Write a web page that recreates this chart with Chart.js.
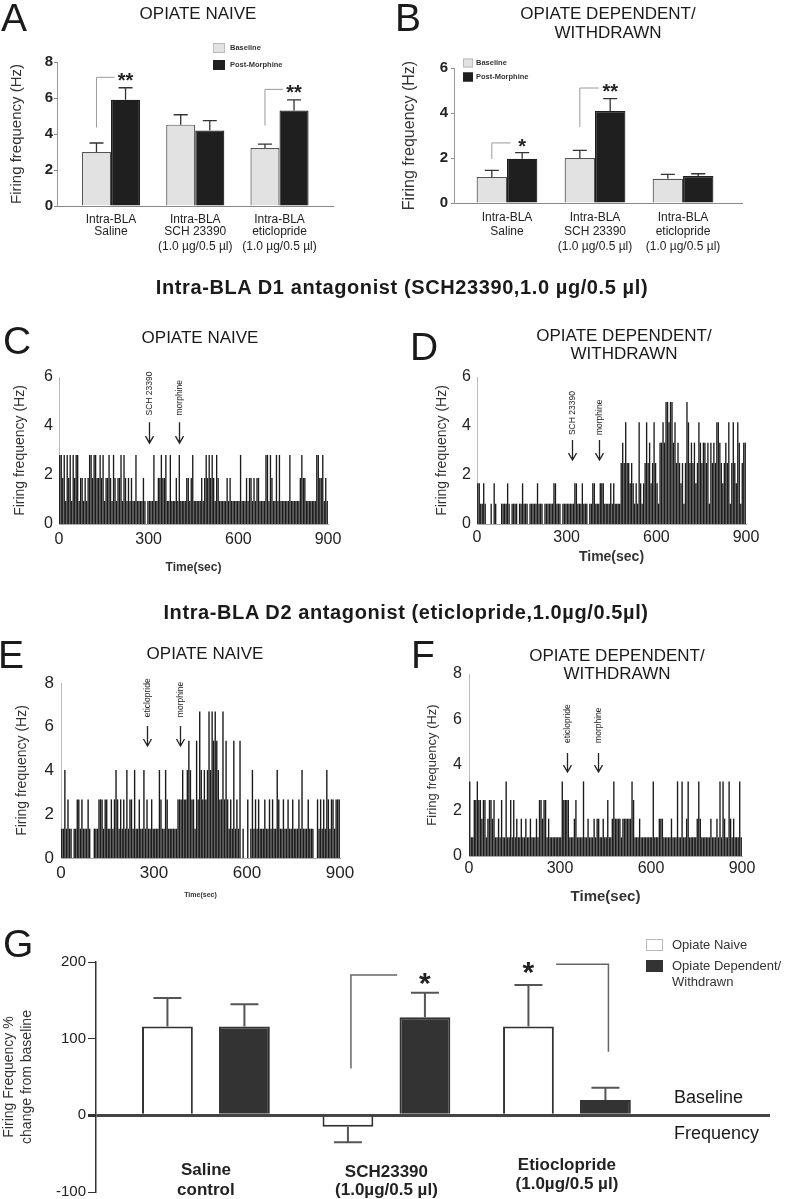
<!DOCTYPE html>
<html>
<head>
<meta charset="utf-8">
<script src="https://cdn.jsdelivr.net/npm/chart.js@4.4.1/dist/chart.umd.min.js"></script>
<style>
  body { margin: 0; background: #fff; }
  #page { position: relative; width: 789px; height: 1199px; overflow: hidden; font-family: 'Liberation Sans', Arial, sans-serif; color: #1a1a1a; }
  canvas { position: absolute; left: 0; top: 0; }
  .t { position: absolute; white-space: nowrap; line-height: 1; }
</style>
</head>
<body>
<div id="page"></div>
<script>
// ---- panels A / B: firing rate before and after morphine ----
const groupLabelsAB = [
  ['Intra-BLA', 'Saline'],
  ['Intra-BLA', 'SCH 23390', '(1.0 µg/0.5 µl)'],
  ['Intra-BLA', 'eticlopride', '(1.0 µg/0.5 µl)']
];
const naiveBaseline = [3.0, 4.52, 3.22];
const naiveBaselineErr = [0.5, 0.55, 0.22];
const naivePostMorphine = [5.9, 4.19, 5.3];
const naivePostMorphineErr = [0.67, 0.55, 0.6];
const depBaseline = [1.16, 2.0, 1.08];
const depBaselineErr = [0.29, 0.34, 0.19];
const depPostMorphine = [1.97, 4.09, 1.2];
const depPostMorphineErr = [0.27, 0.55, 0.1];
const sigNaive = [
  { group: 0, from: 0, to: 1, stars: '**', top: 7.15, low: 4.36 },
  { group: 2, from: 0, to: 1, stars: '**', top: 6.48, low: 4.47 }
];
const sigDependent = [
  { group: 0, from: 0, to: 1, stars: '*', top: 2.67, low: 1.96 },
  { group: 1, from: 0, to: 1, stars: '**', top: 5.11, low: 3.38 }
];

// ---- panels C-F: rate histograms, spikes per 5 s bin ----
const binSec = 5;
const hzPerSpikeC = 0.94;
const hzPerSpikeD = 0.83;
const hzPerSpikeE = 1.34;
const hzPerSpikeF = 0.82;
const countsC = [
  3,3,2,3,1,3,2,3,1,3, 2,3,3,1,2,2,1,2,1,2, 3,3,2,3,3,2,2,3,2,3, 1,2,2,3,2,1,
  3,2,1,2,2,3,1,3,2,1, 2,1,2,1,1,3,1,1,1,1, 2,1,0,1,1,1,1,3,1,1, 2,2,3,2,2,3,
  1,1,3,1,1,1,2,1,3,1, 1,1,1,2,2,1,2,3,1,1, 1,1,1,2,1,2,3,2,3,2, 3,2,1,3,2,1,
  1,1,1,1,2,1,2,1,1,1, 1,1,1,3,1,1,1,2,1,2, 2,1,2,1,2,2,1,1,1,1, 3,3,1,3,2,1,
  1,3,1,3,1,1,1,1,1,1, 3,1,1,1,1,1,1,2,3,2, 2,1,1,1,1,1,1,1,3,3, 2,2,3,1,2,1
];
const countsD = [
  2,2,1,1,2,1,0,0,0,1, 0,2,1,0,0,0,1,1,1,1, 2,1,0,1,1,1,1,0,1,1, 2,1,1,1,0,1,
  1,1,1,1,2,1,1,1,0,1, 1,1,1,1,1,2,2,1,1,1, 0,1,1,1,1,1,1,1,1,2, 2,1,1,1,2,1,
  1,1,0,1,1,2,2,1,1,1, 2,2,2,1,1,1,1,2,1,2, 1,1,1,1,3,4,3,5,3,3, 2,3,2,1,2,1,
  5,2,1,2,3,5,3,4,2,3, 5,3,2,1,4,4,5,4,6,6, 5,6,6,4,5,3,4,3,2,3, 1,3,6,5,3,4,
  3,4,2,3,5,4,3,4,4,3, 4,1,4,3,4,3,5,5,4,3, 2,3,4,3,5,1,3,5,3,2, 5,4,1,3,4,4
];
const countsE = [
  1,1,3,1,2,1,1,0,1,1, 2,2,1,2,1,1,1,2,1,0, 0,1,1,1,2,2,2,1,2,2, 1,1,2,1,2,3,
  2,1,2,1,2,1,3,1,2,2, 1,3,1,1,2,1,1,3,1,2, 1,1,2,1,1,1,1,3,2,1, 1,3,2,1,1,1,
  1,1,1,2,2,2,3,2,2,3, 4,3,2,2,1,4,2,5,3,2, 3,2,3,5,3,5,4,5,4,3, 2,2,5,2,4,2,
  1,2,1,4,1,2,1,4,0,1, 0,0,2,0,1,3,1,2,1,2, 1,1,1,2,1,1,2,1,2,1, 1,3,2,1,1,2,
  1,1,2,1,1,2,1,1,1,2, 1,3,1,1,1,2,1,1,1,0, 0,2,1,2,1,2,1,3,2,1, 2,2,1,2,2,2
];
const countsF = [
  4,1,1,3,3,4,3,3,2,3, 3,1,2,3,3,2,3,1,1,2, 1,3,1,1,4,1,1,3,1,3, 1,2,1,1,2,1,
  1,2,1,1,2,1,1,1,2,1, 3,3,2,3,3,1,2,1,1,1, 1,1,1,1,1,4,3,3,3,3, 1,1,1,2,3,1,
  1,1,1,4,1,1,2,1,1,1, 2,1,2,2,1,1,2,1,1,3, 1,1,2,4,2,2,2,2,1,2, 2,2,2,2,2,4,
  3,1,1,1,2,1,1,1,1,1, 1,1,1,4,1,1,1,2,2,2, 1,1,1,1,1,2,1,1,1,4, 1,1,4,1,1,2,
  4,1,1,1,1,1,2,4,2,1, 1,1,1,1,1,2,1,1,1,2, 1,4,1,4,2,1,1,4,2,1, 2,1,1,1,4,1
];
const eventLabelsD1 = ['SCH 23390', 'morphine'];
const eventLabelsD2 = ['eticlopride', 'morphine'];
const eventTimesC = [301, 402];
const eventTimesD = [317, 408];
const eventTimesE = [278, 385];
const eventTimesF = [322, 424];

// ---- panel G: % change from baseline ----
const groupLabelsG = [['Saline', 'control'], ['SCH23390', '(1.0µg/0.5 µl)'], ['Etioclopride', '(1.0µg/0.5 µl)']];
const pctNaive = [116, -15, 116];
const pctNaiveErr = [37, 20, 54];
const pctDependent = [116, 128, 20];
const pctDependentErr = [29, 32, 16];
const sigG = [
  { group: 1, from: 0, to: 1, stars: '*', top: 183, low: 61 },
  { group: 2, from: 1, to: 0, stars: '*', top: 197, low: 83 }
];

const W = 789, H = 1199;
const FONT = "'Liberation Sans', Arial, sans-serif";
const page = document.getElementById('page');
Chart.defaults.font.family = FONT;
Chart.defaults.color = '#222';

function addCanvas() {
  const c = document.createElement('canvas');
  c.width = W; c.height = H;
  page.appendChild(c);
  return c;
}
// place the plot area at page coordinates
function frame(b) {
  return { autoPadding: false, padding: { left: b.l - b.yw, top: b.t, right: W - b.r, bottom: H - b.b - b.xh } };
}
const fixY = w => s => { s.width = w; s.paddingTop = 0; s.paddingBottom = 0; };
const fixX = h => s => { s.height = h; s.paddingLeft = 0; s.paddingRight = 0; };
const groupTicks = s => { s.ticks = [1, 2, 3].map(v => ({ value: v })); };

const errorBars = {
  id: 'errorBars',
  afterDatasetsDraw(chart, args, o) {
    const ys = chart.scales.y, ctx = chart.ctx;
    chart.data.datasets.forEach((ds, di) => {
      if (!ds.errors) return;
      chart.getDatasetMeta(di).data.forEach((bar, i) => {
        const v = ds.data[i].y, e = ds.errors[i];
        const end = ys.getPixelForValue(v < 0 ? v - e : v + e);
        ctx.save();
        ctx.strokeStyle = o.color; ctx.lineWidth = o.width;
        ctx.beginPath();
        ctx.moveTo(bar.x, bar.y); ctx.lineTo(bar.x, end);
        ctx.moveTo(bar.x - o.cap, end); ctx.lineTo(bar.x + o.cap, end);
        ctx.stroke();
        ctx.restore();
      });
    });
  }
};

const sigBrackets = {
  id: 'sigBrackets',
  afterDatasetsDraw(chart, args, o) {
    const ys = chart.scales.y, ctx = chart.ctx;
    o.items.forEach(it => {
      const a = chart.getDatasetMeta(it.from).data[it.group];
      const b = chart.getDatasetMeta(it.to).data[it.group];
      const yt = ys.getPixelForValue(it.top), yl = ys.getPixelForValue(it.low);
      const xa = a.x + (o.shift || 0);
      ctx.save();
      ctx.strokeStyle = o.color; ctx.lineWidth = o.width;
      ctx.beginPath();
      ctx.moveTo(xa, yl); ctx.lineTo(xa, yt); ctx.lineTo(a.x + o.reach * (b.x - a.x), yt);
      ctx.stroke();
      ctx.fillStyle = '#222'; ctx.font = o.font; ctx.textAlign = 'center'; ctx.textBaseline = 'alphabetic';
      ctx.fillText(it.stars, b.x, yt + o.drop);
      ctx.restore();
    });
  }
};

const groupLabels = {
  id: 'groupLabels',
  afterDraw(chart, args, o) {
    const xs = chart.scales.x, ctx = chart.ctx, bottom = chart.chartArea.bottom;
    ctx.save();
    ctx.fillStyle = '#222'; ctx.textAlign = 'center'; ctx.textBaseline = 'middle';
    o.labels.forEach((lines, i) => {
      const x = xs.getPixelForValue(i + 1);
      const offs = Array.isArray(o.offsets[0]) ? o.offsets[i] : o.offsets;
      lines.forEach((txt, k) => {
        ctx.font = o.font;
        ctx.fillText(txt, x, bottom + offs[k]);
      });
    });
    ctx.restore();
  }
};

const boxLegend = {
  id: 'boxLegend',
  afterDraw(chart, args, o) {
    const ctx = chart.ctx;
    ctx.save();
    chart.data.datasets.forEach((ds, i) => {
      const y = o.ys[i];
      ctx.fillStyle = ds.backgroundColor;
      ctx.fillRect(o.x, y, o.box[0], o.box[1]);
      ctx.strokeStyle = o.edge[i]; ctx.lineWidth = 1;
      ctx.strokeRect(o.x + 0.5, y + 0.5, o.box[0] - 1, o.box[1] - 1);
      ctx.fillStyle = '#333'; ctx.font = o.font; ctx.textAlign = 'left'; ctx.textBaseline = 'middle';
      ds.label.split('\n').forEach((line, k) => ctx.fillText(line, o.x + o.textDx, y + o.box[1] / 2 + k * o.lineH));
    });
    ctx.restore();
  }
};

const eventArrows = {
  id: 'eventArrows',
  afterDraw(chart, args, o) {
    const xs = chart.scales.x, ys = chart.scales.y, ctx = chart.ctx;
    o.times.forEach((t, i) => {
      const x = Math.round(xs.getPixelForValue(t)) + 0.5;
      const y0 = ys.getPixelForValue(o.tail), y1 = ys.getPixelForValue(o.tip);
      ctx.save();
      ctx.strokeStyle = '#222'; ctx.lineWidth = 1.3;
      ctx.beginPath();
      ctx.moveTo(x, y0); ctx.lineTo(x, y1);
      ctx.moveTo(x - 4, y1 - 7); ctx.lineTo(x, y1); ctx.lineTo(x + 4, y1 - 7);
      ctx.stroke();
      ctx.translate(x, ys.getPixelForValue(o.text));
      ctx.rotate(-Math.PI / 2);
      ctx.fillStyle = '#222'; ctx.font = '8.5px ' + FONT; ctx.textAlign = 'left'; ctx.textBaseline = 'middle';
      ctx.fillText(o.labels[i], 0, 0);
      ctx.restore();
    });
  }
};

function barPanel(p) {
  new Chart(addCanvas(), {
    type: 'bar',
    data: {
      datasets: [
        { label: 'Baseline', data: p.base.map((v, i) => ({ x: i + 1, y: v })), errors: p.baseErr,
          backgroundColor: '#e2e2e2', borderColor: '#555', borderWidth: 1.2 },
        { label: 'Post-Morphine', data: p.post.map((v, i) => ({ x: i + 1, y: v })), errors: p.postErr,
          backgroundColor: '#1f1f1f', borderColor: '#1f1f1f', borderWidth: 1.2 }
      ]
    },
    options: {
      responsive: false, animation: false, events: [], devicePixelRatio: 1,
      layout: frame(p.box),
      datasets: { bar: { barPercentage: 1, categoryPercentage: 0.69 } },
      plugins: {
        legend: { display: false }, tooltip: { enabled: false },
        errorBars: { color: '#333', width: 1.3, cap: 7 },
        sigBrackets: { items: p.sig, color: '#9a9a9a', width: 1, reach: 0.62, font: 'bold 20px ' + FONT, drop: 10 },
        groupLabels: { labels: groupLabelsAB, offsets: p.labelOffsets, font: '12px ' + FONT },
        boxLegend: p.legend
      },
      scales: {
        x: { type: 'linear', offset: false, bounds: 'data', min: p.xRange[0], max: p.xRange[1],
          ticks: { display: false }, grid: { display: false, drawTicks: false }, border: { color: '#888' },
          afterBuildTicks: groupTicks, afterFit: fixX(0) },
        y: { min: 0, max: p.yMax, ticks: { stepSize: 2, font: { size: 15, weight: 'bold' }, padding: p.yPad },
          grid: { drawOnChartArea: false, tickLength: 3, color: '#888' }, border: { color: '#999' },
          title: { display: true, text: 'Firing frequency (Hz)', font: { size: p.yTitleSize }, padding: 0, color: '#333' },
          afterFit: fixY(p.box.yw) }
      }
    },
    plugins: [errorBars, sigBrackets, groupLabels, boxLegend]
  });
}

function spikePanel(p) {
  new Chart(addCanvas(), {
    type: 'bar',
    data: {
      datasets: [{
        data: p.counts.map((n, i) => ({ x: i * binSec + binSec / 2, y: n * p.unit })),
        backgroundColor: '#1b1b1b', barPercentage: 0.9, categoryPercentage: 1
      }]
    },
    options: {
      responsive: false, animation: false, events: [], devicePixelRatio: 1,
      layout: frame(p.box),
      plugins: { legend: { display: false }, tooltip: { enabled: false }, eventArrows: p.arrows },
      scales: {
        x: { type: 'linear', offset: false, bounds: 'data', min: 0, max: 900,
          ticks: { stepSize: 300, font: { size: p.tickSize }, padding: p.xPad, maxRotation: 0 },
          grid: { display: false, drawTicks: false }, border: { color: '#aaa' },
          title: { display: true, text: 'Time(sec)', font: p.xTitleFont, padding: 0, color: '#333' },
          afterFit: fixX(p.box.xh) },
        y: { min: 0, max: p.yMax, ticks: { stepSize: 2, font: { size: p.tickSize }, padding: p.yPad },
          grid: { display: false, drawTicks: false }, border: { color: '#bbb' },
          title: { display: true, text: 'Firing frequency (Hz)', font: { size: p.yTitleSize }, padding: 0, color: '#333' },
          afterFit: fixY(p.box.yw) }
      }
    },
    plugins: [eventArrows]
  });
}

// A
barPanel({
  box: { l: 57, t: 62, r: 333, b: 206, yw: 49, xh: 0 }, xRange: [0.359, 3.635], yMax: 8, yPad: 1, yTitleSize: 15,
  base: naiveBaseline, baseErr: naiveBaselineErr, post: naivePostMorphine, postErr: naivePostMorphineErr,
  sig: sigNaive, labelOffsets: [14, 26, 41],
  legend: { x: 213, ys: [43, 60], box: [12, 10], textDx: 17, lineH: 10, font: 'bold 7.5px ' + FONT, edge: ['#bbb', '#1f1f1f'] }
});
// B
barPanel({
  box: { l: 454, t: 68, r: 742, b: 203, yw: 53.6, xh: 0 }, xRange: [0.398, 3.67], yMax: 6, yPad: 3, yTitleSize: 16,
  base: depBaseline, baseErr: depBaselineErr, post: depPostMorphine, postErr: depPostMorphineErr,
  sig: sigDependent, labelOffsets: [15, 29, 44],
  legend: { x: 463, ys: [58.5, 72.5], box: [10, 9], textDx: 13, lineH: 10, font: 'bold 7.5px ' + FONT, edge: ['#bbb', '#1f1f1f'] }
});
// C
spikePanel({
  box: { l: 59, t: 377, r: 328, b: 524, yw: 47.4, xh: 51.2 }, counts: countsC, unit: hzPerSpikeC, yMax: 6,
  tickSize: 16, xPad: 6.4, yPad: 6, yTitleSize: 14, xTitleFont: { size: 12, weight: 'bold' },
  arrows: { times: eventTimesC, labels: eventLabelsD1, tail: 4.15, tip: 3.3, text: 4.43 }
});
// D
spikePanel({
  box: { l: 477, t: 377, r: 746, b: 524, yw: 43.4, xh: 41.4 }, counts: countsD, unit: hzPerSpikeD, yMax: 6,
  tickSize: 16, xPad: 4.4, yPad: 6, yTitleSize: 14, xTitleFont: { size: 14, weight: 'bold' },
  arrows: { times: eventTimesD, labels: eventLabelsD1, tail: 3.43, tip: 2.61, text: 3.63 }
});
// E
spikePanel({
  box: { l: 61, t: 683, r: 340, b: 858, yw: 47.4, xh: 41.2 }, counts: countsE, unit: hzPerSpikeE, yMax: 8,
  tickSize: 17, xPad: 5, yPad: 7, yTitleSize: 14, xTitleFont: { size: 7, weight: 'bold' },
  arrows: { times: eventTimesE, labels: eventLabelsD2, tail: 6.03, tip: 5.12, text: 6.44 }
});
// F
spikePanel({
  box: { l: 469, t: 674, r: 742, b: 856, yw: 44.8, xh: 50 }, counts: countsF, unit: hzPerSpikeF, yMax: 8,
  tickSize: 16, xPad: 3, yPad: 7, yTitleSize: 13, xTitleFont: { size: 15, weight: 'bold' },
  arrows: { times: eventTimesF, labels: eventLabelsD2, tail: 4.53, tip: 3.69, text: 4.97 }
});

// G
new Chart(addCanvas(), {
  type: 'bar',
  data: {
    datasets: [
      { label: 'Opiate Naive', data: pctNaive.map((v, i) => ({ x: i + 1, y: v })), errors: pctNaiveErr,
        backgroundColor: '#ffffff', borderColor: '#333', borderWidth: 2 },
      { label: 'Opiate Dependent/\nWithdrawn', data: pctDependent.map((v, i) => ({ x: i + 1, y: v })), errors: pctDependentErr,
        backgroundColor: '#333333', borderColor: '#333', borderWidth: 2 }
    ]
  },
  options: {
    responsive: false, animation: false, events: [], devicePixelRatio: 1,
    layout: frame({ l: 96, t: 962, r: 770, b: 1192, yw: 96, xh: 0 }),
    datasets: { bar: { barPercentage: 0.66, categoryPercentage: 0.853 } },
    plugins: {
      legend: { display: false }, tooltip: { enabled: false },
      errorBars: { color: '#555', width: 2, cap: 14 },
      sigBrackets: { items: sigG, color: '#666', width: 1.5, reach: 0.64, shift: 3, font: 'bold 30px ' + FONT, drop: 18 },
      groupLabels: { labels: groupLabelsG, offsets: [[-22, -2], [-20, -2], [-27, -8]], font: 'bold 17px ' + FONT },
      boxLegend: { x: 646, ys: [939, 960], box: [17, 12], textDx: 26, lineH: 16, font: '13px ' + FONT, edge: ['#bbb', '#333'] }
    },
    scales: {
      x: { type: 'linear', offset: false, bounds: 'data', min: 0.391, max: 4.125, display: false,
        afterBuildTicks: groupTicks, afterFit: fixX(0) },
      y: { min: -100, max: 200,
        ticks: { stepSize: 100, font: { size: 15 }, padding: 2 },
        grid: { drawOnChartArea: true, tickLength: 8, tickColor: '#333',
          color: c => (c.tick && c.tick.value === 0 ? '#444' : 'rgba(0,0,0,0)'),
          lineWidth: c => (c.tick && c.tick.value === 0 ? 3 : 1) },
        border: { color: '#333', width: 1.5 },
        title: { display: true, text: ['Firing Frequency %', 'change from baseline'], font: { size: 14, lineHeight: 1.286 }, padding: 0, color: '#333' },
        afterFit: fixY(96) }
    }
  },
  plugins: [errorBars, sigBrackets, groupLabels, boxLegend]
});

// page-level text: panel letters, panel titles, section headings
const texts = [
  ['A', 1, 17, 39, 400, 'l'], ['B', 395, 17, 39, 400, 'l'],
  ['C', 3, 340, 39, 400, 'l'], ['D', 410, 346, 39, 400, 'l'],
  ['E', -2, 654, 39, 400, 'l'], ['F', 411, 654, 39, 400, 'l'], ['G', 3, 943, 39, 400, 'l'],
  ['OPIATE NAIVE', 198, 13, 17, 400, 'c'],
  ['OPIATE DEPENDENT/', 608, 13, 17, 400, 'c'], ['WITHDRAWN', 608, 32, 17, 400, 'c'],
  ['Intra-BLA D1 antagonist (SCH23390,1.0 µg/0.5 µl)', 402, 287, 20, 700, 'c'],
  ['OPIATE NAIVE', 200, 337, 17, 400, 'c'],
  ['OPIATE DEPENDENT/', 624, 335, 17, 400, 'c'], ['WITHDRAWN', 624, 353, 17, 400, 'c'],
  ['Intra-BLA D2 antagonist (eticlopride,1.0µg/0.5µl)', 406, 612, 20, 700, 'c'],
  ['OPIATE NAIVE', 205, 653, 17, 400, 'c'],
  ['OPIATE DEPENDENT/', 617, 655, 17, 400, 'c'], ['WITHDRAWN', 617, 673, 17, 400, 'c'],
  ['Baseline', 674, 1097, 18, 400, 'l'], ['Frequency', 674, 1133, 18, 400, 'l']
];
texts.forEach(([text, x, y, size, weight, align]) => {
  const d = document.createElement('div');
  d.className = 't';
  d.textContent = text;
  d.style.left = x + 'px';
  d.style.top = y + 'px';
  d.style.fontSize = size + 'px';
  d.style.fontWeight = weight;
  if (size === 20) d.style.letterSpacing = '0.6px';
  d.style.transform = 'translate(' + (align === 'c' ? '-50%' : '0') + ', -50%)';
  page.appendChild(d);
});
</script>
</body>
</html>
